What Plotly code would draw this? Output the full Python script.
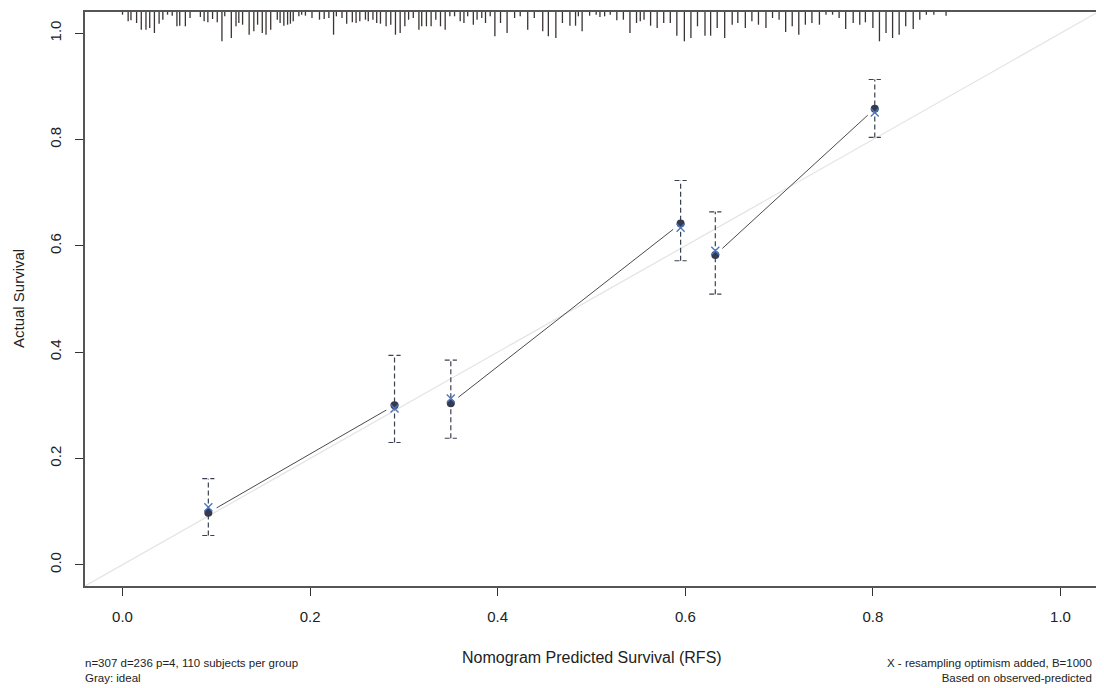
import math
import plotly.graph_objects as go

# Calibration groups
pred = [0.0915, 0.290, 0.350, 0.595, 0.632, 0.802]
observed = [0.098, 0.300, 0.304, 0.642, 0.583, 0.858]
corrected = [0.108, 0.294, 0.313, 0.634, 0.591, 0.851]
ci_low = [0.055, 0.230, 0.238, 0.572, 0.509, 0.804]
ci_high = [0.162, 0.394, 0.385, 0.723, 0.664, 0.913]
# pairs of groups joined by a line in the reference
joined = [(0, 1), (2, 3), (4, 5)]

# Distribution of predicted values (rug at top): positions and relative frequency
rug_x = [0.000, 0.006, 0.009, 0.015, 0.020, 0.025, 0.029, 0.034, 0.039, 0.043,
         0.048, 0.053, 0.058, 0.061, 0.067, 0.072, 0.083, 0.087, 0.091, 0.096,
         0.101, 0.106, 0.109, 0.116, 0.121, 0.124, 0.128, 0.135, 0.140, 0.144,
         0.149, 0.153, 0.158, 0.165, 0.168, 0.172, 0.176, 0.179, 0.182, 0.188,
         0.191, 0.195, 0.202, 0.210, 0.215, 0.220, 0.225, 0.228, 0.234, 0.239,
         0.245, 0.249, 0.253, 0.259, 0.262, 0.267, 0.271, 0.275, 0.281, 0.286,
         0.291, 0.296, 0.301, 0.305, 0.310, 0.316, 0.319, 0.324, 0.329, 0.334,
         0.339, 0.344, 0.349, 0.354, 0.360, 0.364, 0.368, 0.374, 0.378, 0.383,
         0.387, 0.392, 0.397, 0.403, 0.410, 0.418, 0.424, 0.432, 0.439, 0.448,
         0.454, 0.462, 0.469, 0.477, 0.483, 0.486, 0.490, 0.498, 0.505, 0.509,
         0.514, 0.520, 0.527, 0.534, 0.541, 0.548, 0.552, 0.556, 0.563, 0.570,
         0.577, 0.584, 0.591, 0.599, 0.606, 0.613, 0.621, 0.627, 0.634, 0.642,
         0.650, 0.656, 0.664, 0.671, 0.678, 0.686, 0.693, 0.700, 0.707, 0.714,
         0.721, 0.728, 0.735, 0.743, 0.750, 0.757, 0.764, 0.771, 0.779, 0.786,
         0.792, 0.800, 0.807, 0.814, 0.821, 0.828, 0.835, 0.843, 0.850, 0.857,
         0.865, 0.878]
rug_freq = [2.7, 9.3, 8.3, 11, 17.7, 17.7, 16, 21, 11.7, 7.7,
            2.7, 3.7, 14.3, 13.7, 14.3, 6, 5, 9.3, 10.3, 7,
            10.3, 29.3, 4.3, 26, 14.3, 11, 12.7, 22.7, 19.3, 12.7,
            21, 22.7, 17.7, 7.7, 11, 13.7, 12.7, 11.7, 9.3, 4.3,
            2.7, 3.7, 6, 7.7, 7, 6, 22.7, 4.3, 6, 11.7,
            10.3, 11, 9.3, 7.7, 9.3, 7.7, 11, 11.7, 14.3, 12.7,
            22.7, 21, 14.3, 7.7, 6, 17.7, 14.3, 14.3, 14.3, 7.7,
            14.3, 17.7, 4.3, 4.3, 9.3, 11, 4.3, 12.7, 7.7, 6,
            11, 4.3, 24.3, 11, 21, 6, 4.3, 17.7, 6, 19.3,
            24.3, 26, 11, 13.7, 13.7, 4.3, 19.3, 3.7, 2.7, 5,
            4.3, 2.7, 8.3, 7.7, 21, 11, 9.3, 7.7, 13.7, 16,
            11, 11, 23.7, 29.3, 26, 14.3, 23.7, 23.7, 16, 26,
            12.7, 11, 16, 9.3, 12.7, 16, 6, 7.7, 20, 14.3,
            22.7, 12.7, 11, 12.7, 2.7, 2.7, 6, 17, 11, 12.7,
            10.3, 16, 29.3, 21, 26, 22.7, 14.3, 17, 7.7, 2.7,
            2.7, 3.7]

x_ticks = [0.0, 0.2, 0.4, 0.6, 0.8, 1.0]
y_ticks = [0.0, 0.2, 0.4, 0.6, 0.8, 1.0]
x_range = [-0.04, 1.04]
y_range = [-0.04, 1.04]

x_title = "Nomogram Predicted Survival (RFS)"
y_title = "Actual Survival"
note_left = "n=307 d=236 p=4, 110 subjects per group<br>Gray: ideal"
note_right = "X - resampling optimism added, B=1000<br>Based on observed-predicted"

FONT = "Liberation Sans, Arial, sans-serif"

# The page body has an 8px margin, so the figure is sized/offset to compensate.
OFF = 8
W, H = 1104 - OFF, 688 - OFF
ML, MR, MT, MB = 85 - OFF, 6, 12 - OFF, 102
plot_w = W - ML - MR
plot_h = H - MT - MB
sx = plot_w / (x_range[1] - x_range[0])
sy = plot_h / (y_range[1] - y_range[0])

rug_scale = 1.0 / sy  # frequency units (px) -> data units
cap_half = 0.0065
GAP_PX = 9.5  # R type="b" gap around points

fig = go.Figure()

# ideal line
fig.add_trace(go.Scatter(x=x_range, y=y_range, mode="lines",
                         line=dict(color="#e3e3e3", width=1.2),
                         hoverinfo="skip", showlegend=False))

# rug at top
rx, ry = [], []
for xv, fv in zip(rug_x, rug_freq):
    rx += [xv, xv, None]
    ry += [y_range[1], y_range[1] - fv * rug_scale, None]
fig.add_trace(go.Scatter(x=rx, y=ry, mode="lines",
                         line=dict(color="#3a3434", width=1.3),
                         hoverinfo="skip", showlegend=False))

# error bars (dashed) with caps
ex, ey = [], []
for xv, lo, hi in zip(pred, ci_low, ci_high):
    ex += [xv, xv, None, xv - cap_half, xv + cap_half, None, xv - cap_half, xv + cap_half, None]
    ey += [lo, hi, None, hi, hi, None, lo, lo, None]
fig.add_trace(go.Scatter(x=ex, y=ey, mode="lines",
                         line=dict(color="#3c4150", width=1.2, dash="5px,3px"),
                         hoverinfo="skip", showlegend=False))

# observed line segments with gaps at points
lx, ly = [], []
for i, j in joined:
    x0, y0, x1, y1 = pred[i], observed[i], pred[j], observed[j]
    L = math.hypot((x1 - x0) * sx, (y1 - y0) * sy)
    f = GAP_PX / L
    lx += [x0 + (x1 - x0) * f, x1 - (x1 - x0) * f, None]
    ly += [y0 + (y1 - y0) * f, y1 - (y1 - y0) * f, None]
fig.add_trace(go.Scatter(x=lx, y=ly, mode="lines",
                         line=dict(color="#4a4a4a", width=1),
                         hoverinfo="skip", showlegend=False))
fig.add_trace(go.Scatter(x=pred, y=observed, mode="markers",
                         marker=dict(color="#353a4e", size=8, symbol="circle"),
                         showlegend=False))

# bias-corrected
fig.add_trace(go.Scatter(x=pred, y=corrected, mode="markers",
                         marker=dict(symbol="x-thin", size=8,
                                     line=dict(color="#4a78c0", width=1.4)),
                         showlegend=False))

axis_common = dict(showline=True, linecolor="#555555", linewidth=1.5, mirror=True,
                   ticks="outside", ticklen=8, tickcolor="#333333", tickwidth=1,
                   showgrid=False, zeroline=False, ticklabelstandoff=8,
                   tickfont=dict(family=FONT, size=15, color="#222222"))

fig.update_xaxes(range=x_range, tickvals=x_ticks,
                 ticktext=[f"{v:.1f}" for v in x_ticks], **axis_common)
fig.update_yaxes(range=y_range, tickvals=y_ticks,
                 ticktext=[f"{v:.1f}" for v in y_ticks], tickangle=-90,
                 **axis_common)

fig.update_layout(
    width=W, height=H,
    margin=dict(l=ML, r=MR, t=MT, b=MB, autoexpand=False),
    paper_bgcolor="white", plot_bgcolor="white",
    font=dict(family=FONT, color="#222222"),
    annotations=[
        dict(text=x_title, x=0.5, xref="paper", y=-(657 - 586) / plot_h, yref="paper",
             showarrow=False, yanchor="middle",
             font=dict(size=16, family=FONT, color="#222222")),
        dict(text=y_title, x=-(85 - 18) / plot_w, xref="paper", y=0.5, yref="paper",
             showarrow=False, xanchor="center", textangle=-90,
             font=dict(size=15, family=FONT, color="#222222")),
        dict(text=note_left, x=-(85 - 83) / plot_w, xref="paper",
             y=-(655 - 586) / plot_h, yref="paper", showarrow=False,
             align="left", xanchor="left", yanchor="top",
             font=dict(size=11.5, family=FONT, color="#222222")),
        dict(text=note_right, x=1 - 4 / plot_w, xref="paper",
             y=-(655 - 586) / plot_h, yref="paper", showarrow=False,
             align="right", xanchor="right", yanchor="top",
             font=dict(size=11.5, family=FONT, color="#222222")),
    ],
)

fig.write_html("out.html")
